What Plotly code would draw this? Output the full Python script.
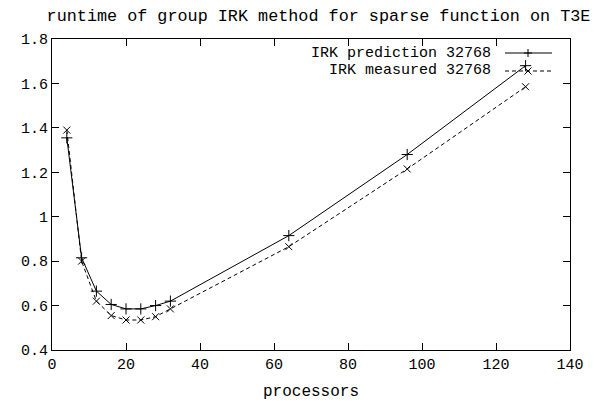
import plotly.graph_objects as go

processors = [4, 8, 12, 16, 20, 24, 28, 32, 64, 96, 128]
prediction = [1.355, 0.815, 0.665, 0.605, 0.585, 0.585, 0.600, 0.620, 0.915, 1.280, 1.680]
measured = [1.390, 0.800, 0.620, 0.555, 0.535, 0.535, 0.550, 0.585, 0.865, 1.215, 1.585]
name_pred = "IRK prediction 32768"
name_meas = "IRK measured 32768"
title = "runtime of group IRK method for sparse function on T3E"

FONT = "Liberation Mono, Courier New, monospace"

fig = go.Figure()
fig.add_trace(go.Scatter(
    x=processors, y=prediction, mode="lines+markers", name=name_pred,
    line=dict(color="black", width=1),
    marker=dict(symbol="cross-thin", size=8, line=dict(color="black", width=1)),
    showlegend=False, cliponaxis=False))
fig.add_trace(go.Scatter(
    x=processors, y=measured, mode="lines+markers", name=name_meas,
    line=dict(color="black", width=1, dash="4px,3px"),
    marker=dict(symbol="x-thin", size=7, line=dict(color="black", width=1)),
    showlegend=False, cliponaxis=False))

L, R, T, B = 52, 24, 39, 51
W, H = 594, 401
pw, ph = W - L - R, H - T - B

def px2paper(x, y):
    return (x - L) / pw, (H - B - y) / ph

shapes = []
annotations = []
rows = [(53, name_pred, "solid", "plus"), (71, name_meas, "dash", "x")]
for ypix, label, dash, sym in rows:
    x0, yp = px2paper(505, ypix)
    x1, _ = px2paper(552, ypix)
    xm, _ = px2paper(528, ypix)
    shapes.append(dict(type="line", xref="paper", yref="paper", x0=x0, x1=x1, y0=yp, y1=yp,
                       line=dict(color="black", width=1, dash="4px,3px" if dash == "dash" else "solid")))
    if sym == "plus":
        path = "M-4,0 L4,0 M0,-4 L0,4"
    else:
        path = "M-3.5,-3.5 L3.5,3.5 M-3.5,3.5 L3.5,-3.5"
    shapes.append(dict(type="path", xref="paper", yref="paper", xsizemode="pixel", ysizemode="pixel",
                       xanchor=xm, yanchor=yp, path=path, line=dict(color="black", width=1)))
    tx, _ = px2paper(493, ypix)
    annotations.append(dict(x=tx, y=yp, xref="paper", yref="paper", text=label, showarrow=False,
                            xanchor="right", yanchor="middle", font=dict(family=FONT, size=15, color="black")))

axis_common = dict(showline=True, linecolor="black", linewidth=1, mirror="ticks",
                   ticks="inside", ticklen=7, tickcolor="black", tickwidth=1,
                   showgrid=False, zeroline=False, automargin=False,
                   tickfont=dict(family=FONT, size=15, color="black"))

fig.update_layout(
    width=W, height=H,
    margin=dict(l=L, r=R, t=T, b=B, autoexpand=False),
    paper_bgcolor="white", plot_bgcolor="white",
    title=dict(text=title, x=318.5 / W, xanchor="center", y=1 - 15 / H, yanchor="middle",
               font=dict(family=FONT, size=16.8, color="black")),
    xaxis=dict(range=[0, 140], dtick=20, tick0=0,
               title=dict(text="processors", font=dict(family=FONT, size=16, color="black"), standoff=12),
               **axis_common),
    yaxis=dict(range=[0.4, 1.8], dtick=0.2, tick0=0.4, **axis_common),
    shapes=shapes, annotations=annotations,
)

fig.write_html("out.html", config={"displayModeBar": False},
               post_script="document.body.style.margin='0';document.body.style.overflow='hidden';")
